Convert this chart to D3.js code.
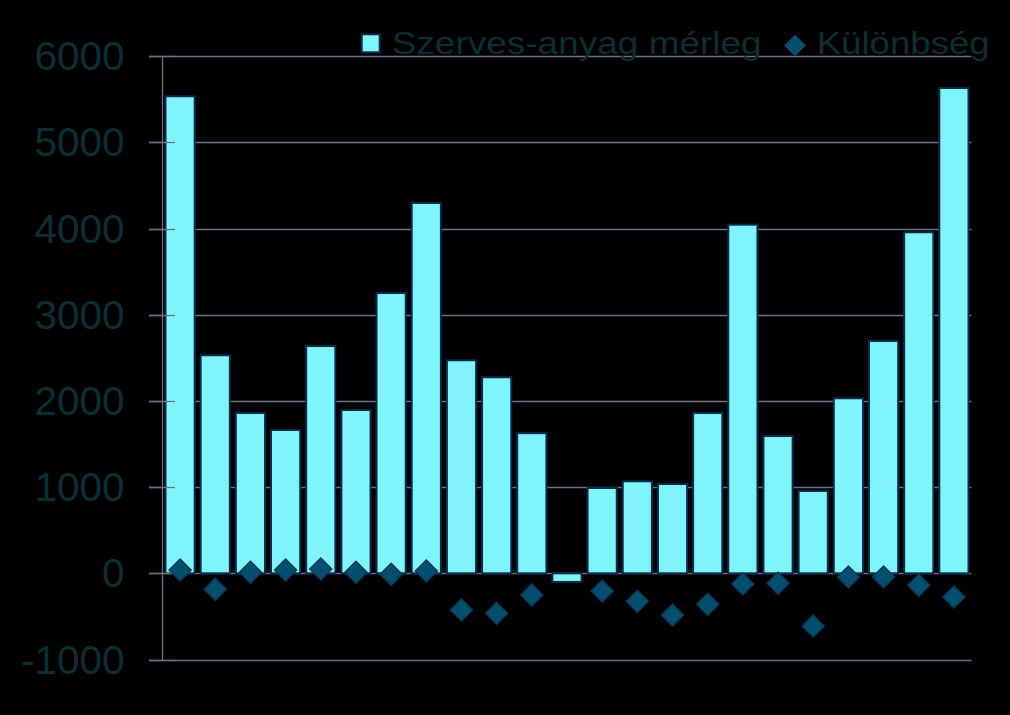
<!DOCTYPE html>
<html>
<head>
<meta charset="utf-8">
<script src="https://cdn.jsdelivr.net/npm/d3@7"></script>
<style>
  html, body { margin: 0; padding: 0; background: #000; }
  svg { display: block; }
</style>
</head>
<body>
<svg id="chart" width="1010" height="715"></svg>
<script>
const categories = d3.range(1, 24).map(String);
const balance = [5535, 2530, 1860, 1663, 2637, 1895, 3252, 4297, 2472, 2275, 1626, -100,
                 990, 1068, 1036, 1860, 4045, 1593, 955, 2031, 2696, 3957, 5631];
const difference = [38, -186, 12, 38, 50, 12, -12, 27, -426, -464, -252, null,
                    -205, -325, -484, -360, -124, -116, -612, -43, -43, -139, -275];
const yTicks = [-1000, 0, 1000, 2000, 3000, 4000, 5000, 6000];
const seriesNames = ["Szerves-anyag mérleg", "Különbség"];

const svg = d3.select("#chart");
svg.append("rect").attr("width", 1010).attr("height", 715).attr("fill", "#000");

const x = d3.scaleBand().domain(categories).range([162.5, 971.5]).paddingInner(0.17).paddingOuter(0.085);
const y = d3.scaleLinear().domain([-1000, 6000]).range([659.5, 56.2]);

const gridColor = "#6c7286";
const textColor = "#0b2f35";

// gridlines
svg.append("g").selectAll("line").data(yTicks).join("line")
  .attr("x1", 149).attr("x2", 971.5)
  .attr("y1", d => Math.round(y(d)) + 0.5).attr("y2", d => Math.round(y(d)) + 0.5)
  .attr("stroke", gridColor).attr("stroke-width", 1.3);

// y axis line
svg.append("line")
  .attr("x1", 162.5).attr("x2", 162.5)
  .attr("y1", Math.round(y(6000)) + 0.5).attr("y2", Math.round(y(-1000)) + 0.5)
  .attr("stroke", gridColor).attr("stroke-width", 1.3);

// bars
svg.append("g").selectAll("rect").data(balance).join("rect")
  .attr("x", (d, i) => x(categories[i]))
  .attr("width", x.bandwidth())
  .attr("y", d => y(Math.max(0, d)))
  .attr("height", d => Math.abs(y(d) - y(0)))
  .attr("fill", "#80f5f9")
  .attr("stroke", "#0b2d4d")
  .attr("stroke-width", 2);

// tick marks (drawn over bars)
svg.append("g").selectAll("line").data(yTicks).join("line")
  .attr("x1", 149).attr("x2", 175)
  .attr("y1", d => Math.round(y(d)) + 0.5).attr("y2", d => Math.round(y(d)) + 0.5)
  .attr("stroke", gridColor).attr("stroke-width", 1.3);

// y labels
svg.append("g").selectAll("text").data(yTicks).join("text")
  .attr("x", 124.5)
  .attr("y", d => y(d) + 14)
  .attr("text-anchor", "end")
  .attr("font-family", "Liberation Sans, Arial, sans-serif")
  .attr("font-size", 40.5)
  .attr("fill", textColor)
  .text(d => d);

// diamonds
const diamond = (cx, cy, r) => `M${cx},${cy - r}L${cx + r},${cy}L${cx},${cy + r}L${cx - r},${cy}Z`;
svg.append("g").selectAll("path")
  .data(difference.map((v, i) => ({ v, c: categories[i] })).filter(d => d.v !== null))
  .join("path")
  .attr("d", d => diamond(x(d.c) + x.bandwidth() / 2, y(d.v), 11))
  .attr("fill", "#034f70")
  .attr("stroke", "#0c3a5c")
  .attr("stroke-width", 1.5);

// legend
const lg = svg.append("g");
lg.append("rect").attr("x", 361.7).attr("y", 34.3).attr("width", 18).attr("height", 18)
  .attr("fill", "#80f5f9").attr("stroke", "#0b2d4d").attr("stroke-width", 2);
lg.append("text").attr("x", 391.7).attr("y", 54)
  .attr("font-family", "Liberation Sans, Arial, sans-serif").attr("font-size", 32)
  .attr("fill", textColor)
  .attr("textLength", 370).attr("lengthAdjust", "spacingAndGlyphs")
  .text(seriesNames[0]);
lg.append("path").attr("d", diamond(795, 45.5, 10.5))
  .attr("fill", "#034f70").attr("stroke", "#0c3a5c").attr("stroke-width", 1);
lg.append("text").attr("x", 816.7).attr("y", 54)
  .attr("font-family", "Liberation Sans, Arial, sans-serif").attr("font-size", 32)
  .attr("fill", textColor)
  .attr("textLength", 173).attr("lengthAdjust", "spacingAndGlyphs")
  .text(seriesNames[1]);
</script>
</body>
</html>
